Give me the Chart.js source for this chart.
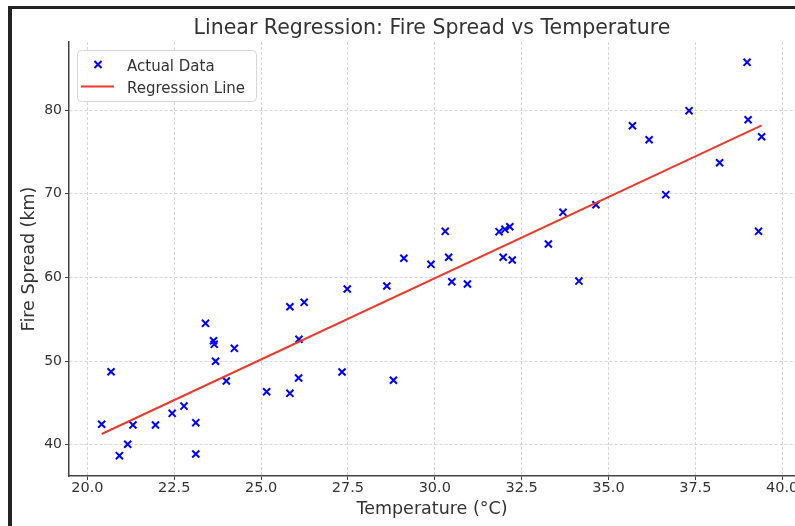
<!DOCTYPE html>
<html>
<head>
<meta charset="utf-8">
<title>Linear Regression: Fire Spread vs Temperature</title>
<script src="https://cdn.jsdelivr.net/npm/chart.js@4.4.1/dist/chart.umd.min.js"></script>
<style>
  html, body { margin: 0; padding: 0; background: #fff; overflow: hidden; }
  #wrap { position: relative; width: 795px; height: 526px; }
  #chart { position: absolute; left: 0; top: 0; }
  .frame { position: absolute; background: #222; }
</style>
</head>
<body>
<div id="wrap">
  <canvas id="chart" width="795" height="526"></canvas>
  <div class="frame" style="left:8px; top:6px; width:4px; height:520px;"></div>
  <div class="frame" style="left:8px; top:6px; width:787px; height:3px;"></div>
</div>
<script>
// values
const temperature = [
  20.41, 20.68, 20.92, 21.16, 21.31, 21.96, 22.44, 22.78, 23.12, 23.12,
  23.40, 23.63, 23.65, 23.69, 24.00, 24.23, 25.16, 25.83, 25.83, 26.24,
  26.09, 26.08, 27.33, 27.48, 28.62, 28.81, 29.11, 29.89, 30.30, 30.40,
  30.49, 30.94, 31.85, 32.02, 32.16, 31.97, 32.23, 33.27, 33.69, 34.15,
  34.64, 35.69, 36.17, 36.65, 37.32, 38.20, 38.99, 39.02, 39.32, 39.41
];
const fireSpread = [
  42.44, 48.72, 38.69, 40.05, 42.35, 42.35, 43.75, 44.62, 42.63, 38.89,
  54.51, 52.43, 52.00, 49.97, 47.61, 51.52, 46.33, 46.14, 56.49, 57.02,
  52.60, 47.97, 48.69, 58.61, 58.97, 47.70, 62.28, 61.56, 65.50, 62.40,
  59.48, 59.21, 65.46, 65.74, 66.05, 62.40, 62.07, 63.99, 67.77, 59.56,
  68.68, 78.12, 76.45, 69.88, 79.92, 73.70, 85.70, 78.84, 65.50, 76.81
];
const lineTemperature = [20.41, 39.41];
const lineSpread = [41.28, 78.17];

const xTicks = [20, 22.5, 25, 27.5, 30, 32.5, 35, 37.5, 40];
const xTickLabels = ["20.0", "22.5", "25.0", "27.5", "30.0", "32.5", "35.0", "37.5", "40.0"];
const yTicks = [40, 50, 60, 70, 80];
const yTickLabels = ["40", "50", "60", "70", "80"];

const FONT = "'DejaVu Sans', 'Liberation Sans', sans-serif";
const TEXT = "#333333";

// matplotlib style legend box in the upper left corner
const legendBox = {
  id: "legendBox",
  afterDraw(chart) {
    const ctx = chart.ctx;
    const sets = chart.data.datasets;
    ctx.save();
    ctx.beginPath();
    if (ctx.roundRect) ctx.roundRect(77.5, 50.5, 179, 51, 4);
    else ctx.rect(77.5, 50.5, 179, 51);
    ctx.fillStyle = "rgba(255,255,255,0.85)";
    ctx.fill();
    ctx.strokeStyle = "#d6d6d6";
    ctx.lineWidth = 1;
    ctx.stroke();

    // scatter marker
    ctx.strokeStyle = sets[1].borderColor;
    ctx.lineWidth = 2;
    Chart.helpers.drawPoint(ctx, { pointStyle: "crossRot", radius: 5, rotation: 0, borderWidth: 2 }, 98, 64.5);

    // line sample
    ctx.strokeStyle = sets[0].borderColor;
    ctx.lineWidth = 2;
    ctx.beginPath();
    ctx.moveTo(81, 86.5);
    ctx.lineTo(114, 86.5);
    ctx.stroke();

    ctx.fillStyle = TEXT;
    ctx.font = "15px " + FONT;
    ctx.textBaseline = "alphabetic";
    ctx.textAlign = "left";
    ctx.fillText(sets[1].label, 127, 70.5);
    ctx.fillText(sets[0].label, 127, 92.5);
    ctx.restore();
  }
};

const noPad = s => { s.paddingLeft = 0; s.paddingRight = 0; s.paddingTop = 0; s.paddingBottom = 0; };

new Chart(document.getElementById("chart"), {
  data: {
    datasets: [
      {
        type: "line",
        label: "Regression Line",
        data: lineTemperature.map((x, i) => ({ x, y: lineSpread[i] })),
        borderColor: "#ee3a2c",
        borderWidth: 2,
        pointRadius: 0,
        fill: false,
        order: 0
      },
      {
        type: "scatter",
        label: "Actual Data",
        data: temperature.map((x, i) => ({ x, y: fireSpread[i] })),
        pointStyle: "crossRot",
        pointRadius: 5,
        borderColor: "#0000ff",
        backgroundColor: "#0000ff",
        borderWidth: 2,
        order: 1
      }
    ]
  },
  options: {
    responsive: false,
    animation: false,
    devicePixelRatio: 1,
    events: [],
    layout: { autoPadding: false, padding: { top: 6, left: 0, right: 0, bottom: 0 } },
    plugins: {
      legend: { display: false },
      tooltip: { enabled: false },
      title: {
        display: true,
        fullSize: false,
        text: "Linear Regression: Fire Spread vs Temperature",
        color: TEXT,
        font: { family: FONT, size: 20.5, weight: "normal", lineHeight: 1.2 },
        padding: { top: 10, bottom: 1.4 }
      }
    },
    scales: {
      x: {
        type: "linear",
        position: "bottom",
        min: 19.47,
        max: 40.37,
        afterBuildTicks: s => { s.ticks = xTicks.map(v => ({ value: v })); },
        afterFit: s => { s.height = 50; noPad(s); },
        ticks: {
          color: TEXT,
          font: { family: FONT, size: 14.5, lineHeight: 1 },
          padding: 1,
          maxRotation: 0,
          autoSkip: false,
          callback: (v, i) => xTickLabels[i]
        },
        grid: {
          color: "#cccccc",
          lineWidth: 0.8,
          tickLength: 4,
          tickColor: "#444",
          tickWidth: 1,
          tickBorderDash: []
        },
        border: { display: true, color: "#444", width: 1.5, dash: [3, 2] },
        title: {
          display: true,
          text: "Temperature (°C)",
          color: TEXT,
          font: { family: FONT, size: 17.5, lineHeight: 1.2 },
          padding: { top: 0, bottom: 6 }
        }
      },
      y: {
        type: "linear",
        position: "left",
        min: 36.26,
        max: 88.13,
        afterBuildTicks: s => { s.ticks = yTicks.map(v => ({ value: v })); },
        afterFit: s => { s.width = 69; noPad(s); },
        ticks: {
          color: TEXT,
          font: { family: FONT, size: 14, lineHeight: 1 },
          padding: 3,
          autoSkip: false,
          callback: (v, i) => yTickLabels[i]
        },
        grid: {
          color: "#cccccc",
          lineWidth: 0.8,
          tickLength: 4,
          tickColor: "#444",
          tickWidth: 1,
          tickBorderDash: []
        },
        border: { display: true, color: "#444", width: 1.5, dash: [3, 2] },
        title: {
          display: true,
          text: "Fire Spread (km)",
          color: TEXT,
          font: { family: FONT, size: 17.5, lineHeight: 1.2 },
          padding: { top: 19, bottom: 0 }
        }
      }
    }
  },
  plugins: [legendBox]
});
</script>
</body>
</html>
